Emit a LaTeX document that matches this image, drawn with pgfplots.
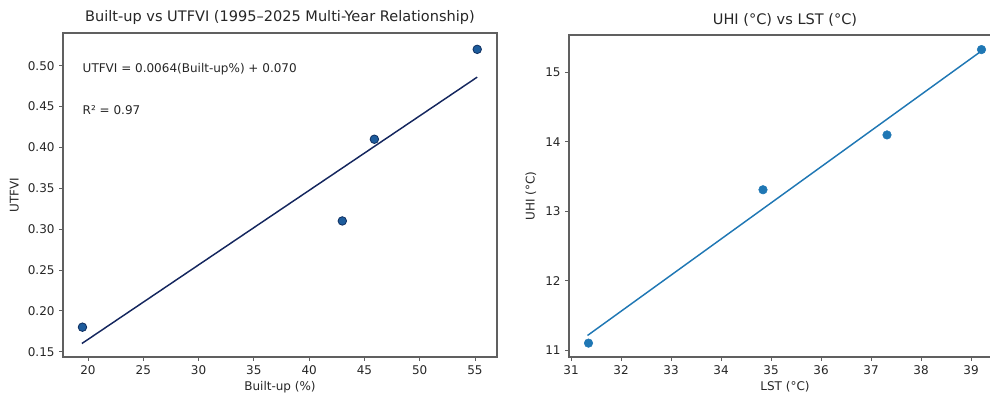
\documentclass[border=0pt]{standalone}
\usepackage{fontspec}
\setmainfont{DejaVu Sans}
\usepackage{pgfplots}
\pgfplotsset{compat=1.18}
\definecolor{tabblue}{HTML}{1F77B4}
\definecolor{ptfill}{HTML}{1D5C9C}
\definecolor{ptedge}{HTML}{0F2F60}
\definecolor{navyline}{HTML}{14265E}
\definecolor{spine}{HTML}{606060}
\definecolor{txt}{HTML}{262626}
\begin{document}
\begin{tikzpicture}
\useasboundingbox (0,0) rectangle (742.5pt,295.5pt);
\clip (0,0) rectangle (742.5pt,295.5pt);
\pgfplotsset{
  every axis/.style={
    scale only axis,
    anchor=south west,
    axis line style={spine, line width=0.8pt},
    tick style={spine, line width=0.7pt},
    tick align=outside,
    major tick length=2.8pt,
    xtick pos=bottom, ytick pos=left,
    minor tick num=0,
    ticklabel style={font=\fontsize{9}{10.8}\selectfont, text=txt},
    label style={font=\fontsize{9}{10.8}\selectfont, text=txt},
    title style={font=\fontsize{10.9}{13}\selectfont, text=txt, yshift=-3pt},
    /pgf/number format/assume math mode=true,
    clip=false,
  }
}
\begin{axis}[
  at={(47.25pt,27.75pt)},
  width=325.5pt, height=243pt,
  xmin=17.74, xmax=56.99, ymin=0.1435, ymax=0.540,
  xtick={20,25,30,35,40,45,50,55},
  ytick={0.15,0.20,0.25,0.30,0.35,0.40,0.45,0.50},
  yticklabel style={/pgf/number format/.cd, fixed, fixed zerofill, precision=2},
  xlabel={Built-up (\%)},
  ylabel={UTFVI},
  xlabel style={yshift=2pt},
  title={Built-up vs UTFVI (1995–2025 Multi-Year Relationship)},
]
\addplot[only marks, mark=*, mark size=3.2pt, mark options={fill=ptfill, draw=ptedge, line width=0.6pt}]
  coordinates {(19.5,0.18) (43.0,0.31) (45.9,0.41) (55.2,0.52)};
\addplot[navyline, line width=1.1pt, no marks]
  coordinates {(19.45,0.160) (55.2,0.486)};
\node[anchor=west, font=\fontsize{9}{10.8}\selectfont, text=txt, inner sep=0pt] at (axis cs:19.5,0.496) {UTFVI = 0.0064(Built-up\%) + 0.070};
\node[anchor=west, font=\fontsize{9}{10.8}\selectfont, text=txt, inner sep=0pt] at (axis cs:19.5,0.446) {R² = 0.97};
\end{axis}
\begin{axis}[
  at={(426.75pt,27.75pt)},
  width=324pt, height=241.5pt,
  xmin=30.96, xmax=39.6, ymin=10.9, ymax=15.54,
  xtick={31,32,...,39},
  ytick={11,12,13,14,15},
  xlabel={LST (°C)},
  ylabel={UHI (°C)},
  xlabel style={yshift=2pt},
  title={UHI (°C) vs LST (°C)},
]
\addplot[only marks, mark=*, mark size=3.2pt, mark options={fill=tabblue, draw=tabblue}]
  coordinates {(31.35,11.1) (34.84,13.31) (37.32,14.10) (39.21,15.33)};
\addplot[tabblue, line width=1.1pt, no marks]
  coordinates {(31.33,11.21) (39.19,15.30)};
\end{axis}
\end{tikzpicture}
\end{document}
